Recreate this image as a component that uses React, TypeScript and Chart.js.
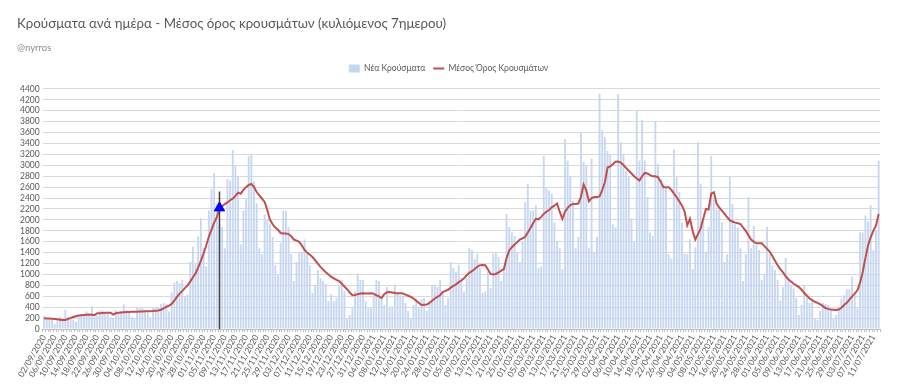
import React, { useEffect, useRef } from 'react';
import { Chart, registerables } from 'chart.js';

Chart.register(...registerables);

const TITLE = 'Κρούσματα ανά ημέρα - Μέσος όρος κρουσμάτων (κυλιόμενος 7ημερου)';
const SUBTITLE = '@nyrros';
const BAR_LABEL = 'Νέα Κρούσματα';
const LINE_LABEL = 'Μέσος Όρος Κρουσμάτων';
const START_YEAR = 2020;
const START_MONTH = 8; // September (0-based)
const START_DAY = 2;
const LABEL_EVERY = 4;
const MARKER_INDEX = 66; // 07/11/2020
const MARKER_VALUE = 2220;
const MARKER_LINE_TOP = 2520;
const Y_MAX = 4400;
const Y_STEP = 200;

const newCases = [
  240, 175, 190, 170, 100, 160, 225, 195, 350, 230,
  200, 170, 135, 245, 255, 240, 320, 280, 420, 225,
  250, 335, 345, 305, 280, 215, 200, 350, 310, 330,
  450, 340, 310, 220, 190, 400, 380, 390, 320, 300,
  210, 400, 400, 390, 460, 480, 460, 320, 670, 860,
  880, 840, 900, 600, 630, 1230, 1510, 1210, 1690, 2030,
  1490, 1150, 2170, 2570, 2860, 2300, 1900, 1870, 1480, 2750,
  2720, 3280, 2990, 2800, 1550, 2170, 2380, 3170, 3200, 2710,
  2300, 1480, 1370, 2100, 2010, 1920, 1690, 1170, 990, 1580,
  2170, 2170, 1870, 1370, 880, 1230, 1410, 1410, 1640, 1370,
  1170, 660, 800, 1080, 930, 880, 820, 510, 640, 510,
  570, 800, 900, 700, 200, 260, 410, 690, 1020, 900,
  900, 510, 380, 380, 620, 900, 880, 570, 440, 770,
  410, 410, 810, 650, 620, 600, 480, 330, 200, 440,
  570, 410, 550, 570, 330, 500, 800, 810, 770, 900,
  660, 440, 570, 1230, 1120, 1050, 1170, 930, 690, 930,
  1490, 1450, 1290, 1380, 1120, 660, 690, 1050, 750, 1380,
  1410, 1320, 880, 1140, 2110, 1870, 1770, 1710, 1410, 1230,
  1600, 2330, 2660, 2170, 2170, 2270, 1120, 1140, 3170, 2600,
  2540, 2480, 1950, 1600, 1480, 1100, 3480, 3090, 2810, 2350,
  1480, 1690, 3590, 3060, 3000, 1480, 3120, 1410, 1690, 4310,
  3640, 3520, 3260, 3200, 1920, 1860, 4300, 3420, 3200, 2900,
  2810, 2030, 1600, 4000, 3090, 3830, 3090, 2420, 1770, 1710,
  3800, 3030, 2750, 2650, 2600, 1370, 1290, 3290, 2780, 2510,
  1950, 1380, 1370, 1640, 1100, 1500, 3420, 2660, 1980, 1410,
  1870, 3170, 2370, 2190, 2190, 1950, 1230, 1370, 2810, 2290,
  1920, 1860, 1480, 880, 1370, 2420, 1480, 1890, 1540, 1450,
  900, 990, 1870, 1370, 1170, 1080, 900, 530, 770, 1300,
  960, 810, 750, 570, 260, 440, 810, 570, 480, 510,
  200, 170, 330, 480, 460, 440, 350, 200, 260, 410,
  560, 620, 730, 730, 960, 620, 380, 1770, 1770, 2080,
  1970, 2270, 1450, 1800, 3090,
];

const movingAvg = [
  200, 195, 192, 190, 185, 180, 172, 165, 168, 185,
  205, 220, 235, 250, 255, 258, 262, 265, 262, 255,
  290, 292, 295, 298, 300, 300, 265, 290, 300, 305,
  310, 312, 315, 316, 318, 318, 320, 322, 325, 326,
  328, 330, 335, 340, 355, 380, 405, 430, 460, 520,
  590, 650, 700, 750, 800, 870, 950, 1020, 1130, 1250,
  1380, 1530, 1690, 1820, 1950, 2050, 2200, 2250, 2290, 2320,
  2360, 2390, 2440, 2500, 2480, 2550, 2600, 2640, 2660, 2600,
  2510, 2450, 2390, 2330, 2180, 2000, 1920, 1860, 1820, 1760,
  1750, 1750, 1740, 1700, 1640, 1620, 1600, 1530, 1450, 1400,
  1360, 1320, 1260, 1200, 1140, 1090, 1040, 1000, 960, 930,
  900, 880, 830, 780, 730, 670, 620, 625, 640, 650,
  655, 650, 650, 655, 650, 620, 600, 570, 640, 675,
  680, 670, 660, 655, 655, 650, 630, 610, 590, 560,
  520, 480, 440, 445, 450, 480, 520, 560, 590, 620,
  680, 700, 720, 760, 790, 820, 860, 890, 930, 985,
  1030, 1060, 1100, 1140, 1170, 1175, 1170, 1090, 1010, 1000,
  1010, 1040, 1070, 1100, 1300, 1440, 1500, 1550, 1590, 1640,
  1660, 1690, 1770, 1850, 1940, 2020, 2010, 2050, 2110, 2150,
  2180, 2230, 2260, 2300, 2150, 2020, 2150, 2220, 2270, 2290,
  2290, 2300, 2420, 2650, 2540, 2340, 2400, 2420, 2420, 2430,
  2550, 2690, 2960, 2980, 3020, 3065, 3070, 3050, 3000, 2950,
  2900, 2850, 2800, 2760, 2720, 2800, 2860, 2850, 2820, 2800,
  2800, 2780, 2700, 2600, 2600, 2600, 2550, 2480, 2415, 2340,
  2260, 2150, 1900, 2020, 1800, 1640, 1740, 1840, 2020, 2200,
  2190, 2480, 2505, 2300, 2230, 2170, 2110, 2050, 1990, 1970,
  1950, 1940, 1925, 1860, 1800, 1720, 1640, 1600, 1570, 1570,
  1570, 1520, 1470, 1420, 1340, 1250, 1170, 1100, 1040, 970,
  910, 870, 830, 800, 770, 720, 660, 610, 560, 530,
  500, 480, 455, 420, 385, 370, 360, 355, 350, 360,
  390, 440, 480, 540, 600, 650, 710, 850, 1045, 1300,
  1530, 1680, 1800, 1900, 2110,
];

const pad2 = (n: number) => (n < 10 ? '0' + n : String(n));
const dateLabels = newCases.map((_, i) => {
  const d = new Date(Date.UTC(START_YEAR, START_MONTH, START_DAY + i));
  return `${pad2(d.getUTCDate())}/${pad2(d.getUTCMonth() + 1)}/${d.getUTCFullYear()}`;
});
const markerData = newCases.map((_, i) => (i === MARKER_INDEX ? MARKER_VALUE : null));

const FONT = "Lato, 'Open Sans', 'DejaVu Sans', sans-serif";
const TEXT = '#595959';

const markerLinePlugin = {
  id: 'markerLine',
  afterDatasetDraw(chart: any, args: any) {
    if (args.index !== 1) return;
    const { ctx, scales } = chart;
    const x = scales.x.getPixelForValue(MARKER_INDEX);
    const y0 = scales.y.getPixelForValue(0);
    const y1 = scales.y.getPixelForValue(MARKER_LINE_TOP);
    ctx.save();
    ctx.strokeStyle = '#404040';
    ctx.lineWidth = 1.5;
    ctx.beginPath();
    ctx.moveTo(x, y0);
    ctx.lineTo(x, y1);
    ctx.stroke();
    ctx.restore();
  },
};

const legendMarginPlugin = {
  id: 'legendMargin',
  beforeInit(chart: any) {
    const legend = chart.legend;
    if (!legend) return;
    const origFit = legend.fit;
    legend.fit = function () {
      origFit.call(this);
      this.height += 6;
    };
  },
};

export default function App() {
  const ref = useRef<HTMLCanvasElement | null>(null);
  useEffect(() => {
    if (!ref.current) return;
    Chart.defaults.font.family = FONT;
    const chart = new Chart(ref.current, {
      type: 'bar',
      data: {
        labels: dateLabels,
        datasets: [
          {
            type: 'bar',
            label: BAR_LABEL,
            data: newCases,
            backgroundColor: '#c7d7f2',
            borderWidth: 0,
            barPercentage: 0.7,
            categoryPercentage: 1,
            order: 3,
            pointStyle: 'rect',
          } as any,
          {
            type: 'line',
            label: LINE_LABEL,
            data: movingAvg,
            borderColor: '#c0504d',
            backgroundColor: '#c0504d',
            borderWidth: 2,
            pointRadius: 0,
            pointStyle: 'line',
            tension: 0,
            order: 2,
          } as any,
          {
            type: 'line',
            label: 'marker',
            data: markerData,
            showLine: false,
            pointStyle: 'triangle',
            pointRadius: 6,
            backgroundColor: '#0000ff',
            borderColor: '#0000ff',
            order: 1,
          } as any,
        ],
      },
      options: {
        responsive: false,
        animation: false,
        devicePixelRatio: 1,
        layout: { padding: { left: 17, right: 20, top: 0, bottom: 8 } },
        plugins: {
          title: {
            display: true,
            text: TITLE,
            align: 'start',
            color: TEXT,
            font: { size: 13.3, weight: 'normal', family: FONT },
            padding: { top: 16, bottom: 10 },
          },
          subtitle: {
            display: true,
            text: SUBTITLE,
            align: 'start',
            color: '#8c8c8c',
            font: { size: 9.5, family: FONT },
            padding: { bottom: 3 },
          },
          legend: {
            display: true,
            position: 'top',
            labels: {
              usePointStyle: true,
              pointStyleWidth: 11,
              boxHeight: 8,
              color: TEXT,
              font: { size: 8.5, family: FONT },
              padding: 8,
              sort: (a: any, b: any) => a.datasetIndex - b.datasetIndex,
              filter: (item: any) => item.datasetIndex !== 2,
            },
          },
          tooltip: { enabled: false },
        },
        scales: {
          x: {
            offset: true,
            grid: { display: true, drawOnChartArea: false, drawTicks: true, tickLength: 3, color: '#bfbfbf' },
            border: { display: true, color: '#bfbfbf' },
            ticks: {
              autoSkip: false,
              minRotation: 60,
              maxRotation: 60,
              color: TEXT,
              font: { size: 8.5, family: FONT },
              padding: 1,
              callback: (_v: any, i: number) => (i % LABEL_EVERY === 0 ? dateLabels[i] : ''),
            },
          },
          y: {
            min: 0,
            max: Y_MAX,
            ticks: {
              stepSize: Y_STEP,
              autoSkip: false,
              color: TEXT,
              font: { size: 8.5, family: FONT },
              padding: 3,
              callback: (v: any) => String(v),
            },
            grid: { color: '#d9d9d9', drawTicks: false },
            border: { display: false },
          },
        },
      },
      plugins: [legendMarginPlugin, markerLinePlugin],
    } as any);
    return () => chart.destroy();
  }, []);
  return (
    <div style={{ position: 'absolute', left: 0, top: 0, width: 900, height: 388, background: '#fff' }}>
      <canvas ref={ref} width={900} height={388} />
    </div>
  );
}
